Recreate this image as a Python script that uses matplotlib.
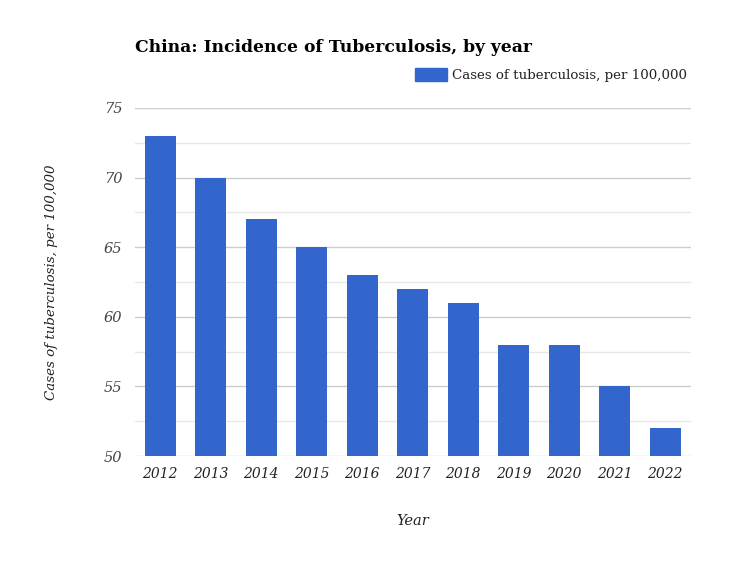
import matplotlib.pyplot as plt
import numpy as np
from matplotlib.patches import Patch

years = ['2012', '2013', '2014', '2015', '2016', '2017', '2018', '2019', '2020', '2021', '2022']
cases = [73, 70, 67, 65, 63, 62, 61, 58, 58, 55, 52]

bar_color = '#3366cc'
serif = ['DejaVu Serif']

fig = plt.figure(figsize=(7.5, 5.63), dpi=100)
ax = fig.add_axes([0.18, 0.19, 0.7407, 0.6182])

x = np.arange(len(years))
ax.bar(x, np.array(cases) - 50, bottom=50, width=0.62, color=bar_color, zorder=3)

ax.set_xlim(-0.5, len(years) - 0.5)
ax.set_ylim(50, 75)
ax.set_yticks([50, 55, 60, 65, 70, 75])
ax.set_yticks(np.arange(52.5, 75, 5), minor=True)
ax.grid(axis='y', which='major', color='#cccccc', linewidth=1, zorder=0)
ax.grid(axis='y', which='minor', color='#e8e8e8', linewidth=1, zorder=0)
ax.tick_params(axis='y', which='both', length=0, pad=9)
ax.tick_params(axis='x', length=0, pad=8)
for s in ax.spines.values():
    s.set_visible(False)

ax.set_xticks(x)
ax.set_xticklabels(years, family=serif, style='italic', fontsize=10, color='#222222')
for lbl in ax.get_yticklabels():
    lbl.set_family(serif)
    lbl.set_style('italic')
    lbl.set_fontsize(10.5)
    lbl.set_color('#444444')

ax.set_xlabel('Year', family=serif, style='italic', fontsize=10.5, color='#222222', labelpad=24)
ax.set_ylabel('Cases of tuberculosis, per 100,000', family=serif, style='italic',
              fontsize=9.6, color='#222222', labelpad=33)

fig.text(0.18, 0.916, 'China: Incidence of Tuberculosis, by year', family=serif,
         fontweight='bold', fontsize=12.3, color='#000000', va='center')

handle = [Patch(color=bar_color, label='Cases of tuberculosis, per 100,000')]
leg = fig.legend(handles=handle, loc='center right', bbox_to_anchor=(0.932, 0.866),
                 frameon=False, prop={'family': serif, 'size': 9.6},
                 handlelength=2.4, handleheight=1.1, handletextpad=0.4)
for t in leg.get_texts():
    t.set_color('#222222')

fig.savefig('out.png', dpi=100)
